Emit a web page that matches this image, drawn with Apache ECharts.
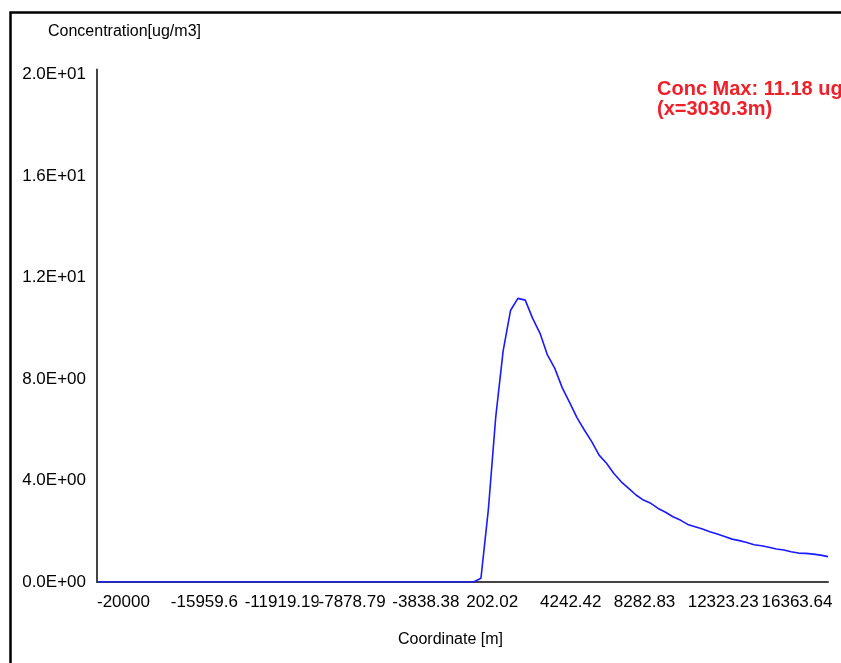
<!DOCTYPE html>
<html>
<head>
<meta charset="utf-8">
<script src="https://cdn.jsdelivr.net/npm/echarts@6/dist/echarts.min.js"></script>
<style>
html,body{margin:0;padding:0;background:#fff;}
#chart{width:841px;height:663px;}
</style>
</head>
<body>
<div id="chart"></div>
<script>
const categories = [
  '-20000','-19595.96','-19191.92','-18787.88','-18383.84','-17979.8','-17575.76','-17171.72','-16767.68','-16363.64',
  '-15959.6','-15555.56','-15151.52','-14747.47','-14343.43','-13939.39','-13535.35','-13131.31','-12727.27','-12323.23',
  '-11919.19','-11515.15','-11111.11','-10707.07','-10303.03','-9898.99','-9494.95','-9090.91','-8686.87','-8282.83',
  '-7878.79','-7474.75','-7070.71','-6666.67','-6262.63','-5858.59','-5454.55','-5050.51','-4646.46','-4242.42',
  '-3838.38','-3434.34','-3030.3','-2626.26','-2222.22','-1818.18','-1414.14','-1010.1','-606.06','-202.02',
  '202.02','606.06','1010.1','1414.14','1818.18','2222.22','2626.26','3030.3','3434.34','3838.38',
  '4242.42','4646.46','5050.51','5454.55','5858.59','6262.63','6666.67','7070.71','7474.75','7878.79',
  '8282.83','8686.87','9090.91','9494.95','9898.99','10303.03','10707.07','11111.11','11515.15','11919.19',
  '12323.23','12727.27','13131.31','13535.35','13939.39','14343.43','14747.47','15151.52','15555.56','15959.6',
  '16363.64','16767.68','17171.72','17575.76','17979.8','18383.84','18787.88','19191.92','19595.96','20000'
];
const concentration = [
  0,0,0,0,0,0,0,0,0,0,
  0,0,0,0,0,0,0,0,0,0,
  0,0,0,0,0,0,0,0,0,0,
  0,0,0,0,0,0,0,0,0,0,
  0,0,0,0,0,0,0,0,0,0,
  0,0,0.15,2.85,6.5,9.1,10.7,11.18,11.11,10.39,
  9.80,8.95,8.42,7.66,7.08,6.48,5.99,5.53,5.00,4.68,
  4.28,3.95,3.69,3.43,3.23,3.10,2.90,2.75,2.57,2.44,
  2.27,2.18,2.09,1.98,1.89,1.79,1.69,1.63,1.56,1.47,
  1.43,1.37,1.30,1.26,1.19,1.14,1.13,1.10,1.06,1.00
];
const yTickValues = [0, 4, 8, 12, 16, 20];
const yTickLabels = ['0.0E+00','4.0E+00','8.0E+00','1.2E+01','1.6E+01','2.0E+01'];
const yTitle = 'Concentration[ug/m3]';
const xTitle = 'Coordinate [m]';
const maxNote = 'Conc Max: 11.18 ug\n(x=3030.3m)';

const FONT = '"Liberation Sans", Arial, sans-serif';
const chart = echarts.init(document.getElementById('chart'), null, {renderer: 'canvas'});
chart.setOption({
  animation: false,
  backgroundColor: '#ffffff',
  title: [
    {text: yTitle, left: 48, top: 24, padding: 0,
     textStyle: {fontFamily: FONT, fontSize: 16, fontWeight: 'normal', color: '#000'}},
    {text: xTitle, left: 398, top: 632, padding: 0,
     textStyle: {fontFamily: FONT, fontSize: 16, fontWeight: 'normal', color: '#000'}},
    {text: maxNote, left: 657, top: 80, padding: 0,
     textStyle: {fontFamily: FONT, fontSize: 20, fontWeight: 'bold', color: '#f0202a', lineHeight: 19.5}}
  ],
  graphic: [
    {type: 'rect', left: 8, top: 10, shape: {width: 1000, height: 1000},
     style: {fill: 'none', stroke: '#000', lineWidth: 2.5}, silent: true}
  ],
  grid: {left: 97, right: 13, top: 69.5, bottom: 81, containLabel: false},
  xAxis: {
    type: 'category',
    data: categories,
    boundaryGap: false,
    axisLine: {show: true, lineStyle: {color: '#444', width: 2}},
    axisTick: {show: false},
    splitLine: {show: false},
    axisLabel: {
      interval: 9,
      align: 'left',
      margin: 12,
      fontFamily: FONT,
      fontSize: 17,
      color: '#000',
      backgroundColor: '#fff',
      padding: [0, 0, 0, 0]
    }
  },
  yAxis: {
    type: 'value',
    min: 0,
    max: 20.2,
    interval: 4,
    axisLine: {show: true, lineStyle: {color: '#444', width: 2}},
    axisTick: {show: false},
    splitLine: {show: false},
    axisLabel: {
      margin: 11,
      fontFamily: FONT,
      fontSize: 17,
      color: '#000',
      formatter: function (v) {
        const k = yTickValues.indexOf(Math.round(v * 1000) / 1000);
        return k >= 0 ? yTickLabels[k] : '';
      }
    }
  },
  series: [{
    type: 'line',
    data: concentration,
    showSymbol: false,
    smooth: false,
    lineStyle: {color: '#1a1aff', width: 1.6},
    itemStyle: {color: '#1a1aff'}
  }]
});
</script>
</body>
</html>
